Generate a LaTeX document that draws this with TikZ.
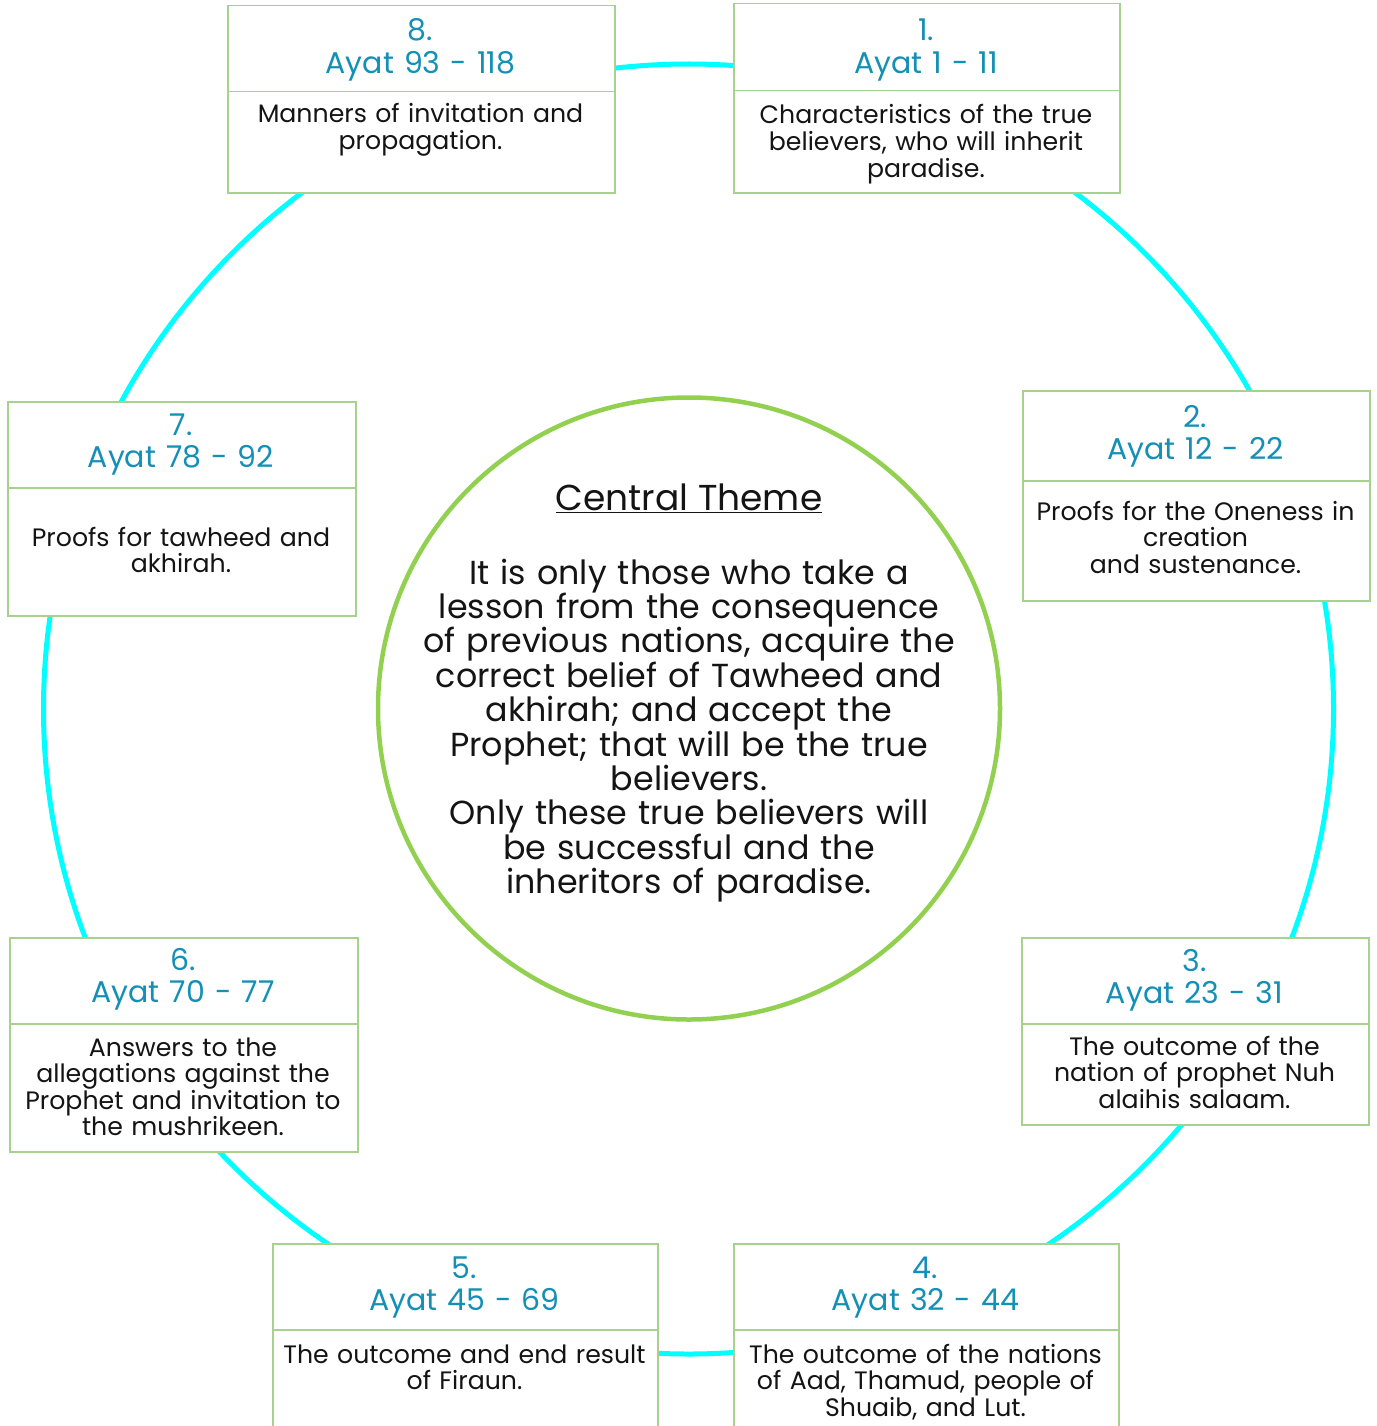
\documentclass[tikz,border=0pt]{standalone}
\usepackage{fontspec}
\setmainfont{Poppins}
\definecolor{ringc}{RGB}{0,255,255}
\definecolor{centc}{RGB}{146,208,80}
\definecolor{boxc}{RGB}{169,209,142}
\definecolor{headc}{RGB}{20,143,182}
\definecolor{textc}{RGB}{20,20,20}
\tikzset{
  ringshape/.style={circle, draw=ringc, line width=5pt, minimum size=1290pt, inner sep=0pt},
  centshape/.style={circle, draw=centc, line width=4.5pt, fill=white, minimum size=622pt, inner sep=0pt},
  boxpart/.style={rectangle, draw=boxc, line width=1.5pt, fill=white, inner sep=0pt, anchor=north west},
  headtext/.style={anchor=base, inner sep=0pt, text width=500pt, align=center, text=headc, font=\fontsize{30}{32.5}\selectfont},
  bodytext/.style={anchor=base, inner sep=0pt, text width=500pt, align=center, text=textc, font=\fontsize{25.2}{26.6}\selectfont},
  centtext/.style={anchor=base, inner sep=0pt, text width=700pt, align=center, text=textc, font=\fontsize{33.3}{34.4}\selectfont},
  titletext/.style={anchor=base, inner sep=0pt, text=textc, font=\fontsize{36}{40}\selectfont},
}
\begin{document}
\begin{tikzpicture}[x=1pt, y=-1pt]
\useasboundingbox (0,0) rectangle (1376,1426);
\clip (0,0) rectangle (1376,1426);
\fill[white] (0,0) rectangle (1376,1426);

% outer ring
\node[ringshape] (ring) at (688.5,709) {};

% central circle
\node[centshape] (centre) at (689,708.5) {};
\node[titletext] (title) at (689,510) {\underline{Central Theme}};
\node[centtext] (theme) at (689,584) {It is only those who take a\\lesson from the consequence\\of previous nations, acquire the\\correct belief of Tawheed and\\akhirah; and accept the\\Prophet; that will be the true\\believers.\\Only these true believers will\\be successful and the\\inheritors of paradise.};

% box 1
\node[boxpart, minimum width=386pt, minimum height=87pt] (h1) at (733,3) {};
\node[boxpart, minimum width=386pt, minimum height=102pt] (b1) at (733,90) {};
\node[headtext] (t1) at (926,41) {1.\\Ayat 1 - 11};
\node[bodytext] (d1) at (926,124) {Characteristics of the true\\believers, who will inherit\\paradise.};

% box 2
\node[boxpart, minimum width=347pt, minimum height=90pt] (h2) at (1022,390) {};
\node[boxpart, minimum width=347pt, minimum height=120pt] (b2) at (1022,480) {};
\node[headtext] (t2) at (1195.5,427) {2.\\Ayat 12 - 22};
\node[bodytext] (d2) at (1195.5,520) {Proofs for the Oneness in\\creation\\and sustenance.};

% box 3
\node[boxpart, minimum width=347pt, minimum height=86pt] (h3) at (1021,937) {};
\node[boxpart, minimum width=347pt, minimum height=101pt] (b3) at (1021,1023) {};
\node[headtext] (t3) at (1194.5,971) {3.\\Ayat 23 - 31};
\node[bodytext] (d3) at (1194.5,1055) {The outcome of the\\nation of prophet Nuh\\alaihis salaam.};

% box 4
\node[boxpart, minimum width=385pt, minimum height=86pt] (h4) at (733,1243) {};
\node[boxpart, minimum width=385pt, minimum height=130pt] (b4) at (733,1329) {};
\node[headtext] (t4) at (925.5,1278) {4.\\Ayat 32 - 44};
\node[bodytext] (d4) at (925.5,1363) {The outcome of the nations\\of Aad, Thamud, people of\\Shuaib, and Lut.};

% box 5
\node[boxpart, minimum width=385pt, minimum height=86pt] (h5) at (272,1243) {};
\node[boxpart, minimum width=385pt, minimum height=130pt] (b5) at (272,1329) {};
\node[headtext] (t5) at (464.5,1278) {5.\\Ayat 45 - 69};
\node[bodytext] (d5) at (464.5,1363) {The outcome and end result\\of Firaun.};

% box 6
\node[boxpart, minimum width=348pt, minimum height=86pt] (h6) at (9,937) {};
\node[boxpart, minimum width=348pt, minimum height=128pt] (b6) at (9,1023) {};
\node[headtext] (t6) at (183,970) {6.\\Ayat 70 - 77};
\node[bodytext] (d6) at (183,1056) {Answers to the\\allegations against the\\Prophet and invitation to\\the mushrikeen.};

% box 7
\node[boxpart, minimum width=348pt, minimum height=86pt] (h7) at (7,401) {};
\node[boxpart, minimum width=348pt, minimum height=128pt] (b7) at (7,487) {};
\node[headtext] (t7) at (181,435) {7.\\Ayat 78 - 92};
\node[bodytext] (d7) at (181,546) {Proofs for tawheed and\\akhirah.};

% box 8
\node[boxpart, minimum width=387pt, minimum height=86pt] (h8) at (227,5) {};
\node[boxpart, minimum width=387pt, minimum height=101pt] (b8) at (227,91) {};
\node[headtext] (t8) at (420.5,41) {8.\\Ayat 93 - 118};
\node[bodytext] (d8) at (420.5,123) {Manners of invitation and\\propagation.};
\end{tikzpicture}
\end{document}
